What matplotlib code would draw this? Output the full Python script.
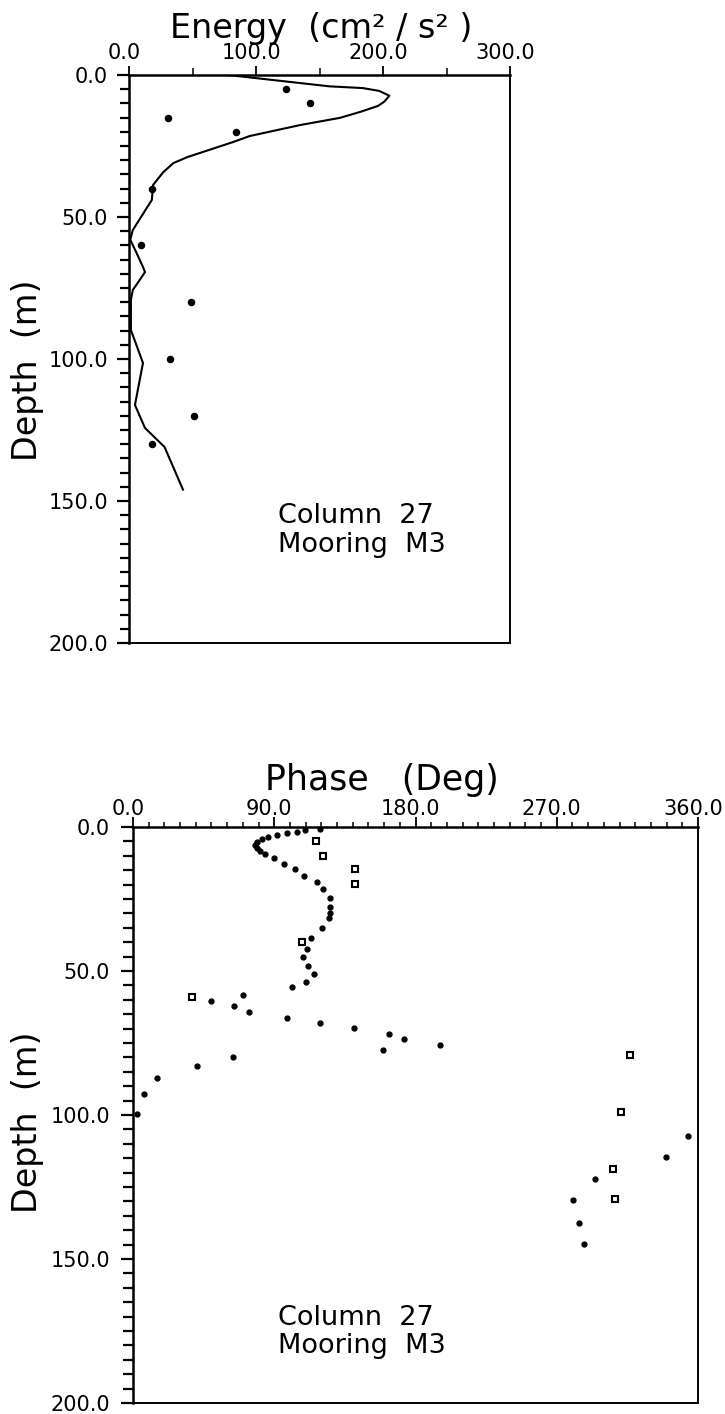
import matplotlib
matplotlib.use("Agg")
import matplotlib.pyplot as plt
from matplotlib.ticker import MultipleLocator, FormatStrFormatter
from matplotlib.transforms import ScaledTranslation

plt.rcParams['font.family'] = ['DejaVu Sans']

# ---------------- data ----------------
# Top panel: energy profile (line) and observed energy (dots)
energy_line_depth = [0, 2.0, 4.0, 4.6, 5.6, 7.3, 9.4, 10.9, 13.0, 15.1, 17.6, 21.5, 23.6,
                     28.9, 31.0, 34.2, 38.7, 44.0, 46.8, 54.6, 58.0, 62.7, 67.6, 69.4,
                     72.0, 75.7, 79.2, 89.8, 101.4, 116.2, 124.3, 131.0, 146.0]
energy_line_value = [78, 118, 158, 184, 197, 205, 201, 196, 182, 166, 135, 95, 82,
                     46, 35, 27, 19, 18, 14, 3, 1, 6, 11, 12.6,
                     8.7, 3, 1.5, 1.5, 11, 4.7, 12.6, 28, 42.5]
energy_obs_depth = [5, 10, 15, 20, 40, 60, 80, 100, 120, 130]
energy_obs_value = [123.6, 142.5, 30.7, 84, 18, 9.4, 48.8, 32.3, 51, 18]

# Bottom panel: phase (dots = model, squares = observed)
phase_dot_depth = [0.6, 1.0, 1.7, 2.1, 2.8, 3.5, 4.2, 5.2, 6.3, 7.3, 8.4, 9.4, 10.8, 12.9,
                   14.6, 17.1, 19.2, 21.6, 24.7, 27.9, 30.0, 31.7, 35.2, 38.7, 42.2,
                   45.3, 48.4, 51.2, 53.7, 55.7, 58.2, 60.3, 62.0, 64.1, 66.2, 67.9,
                   69.7, 71.8, 73.5, 75.6, 77.4, 79.8, 82.9, 87.1, 92.7, 99.7,
                   107.3, 114.6, 122.3, 129.6, 137.6, 144.9]
phase_dot_value = [119.2, 109.6, 104.5, 98, 91.8, 86, 82.2, 79, 77.8, 79, 81, 84, 90, 96,
                   103, 109, 117, 121, 125.6, 125.6, 125.6, 125, 120.5, 113.4, 111,
                   108.3, 111.5, 115.4, 110.3, 101.3, 70, 49.7, 64.4, 74, 98, 119.2,
                   140.9, 163, 172.7, 195.7, 159.3, 63.7, 40.8, 15.3, 7, 2.5,
                   353.7, 339.7, 294.5, 280.4, 284.3, 287.4]
phase_sq_depth = [4.9, 10.1, 14.6, 19.9, 40.1, 59.2, 79.1, 99.0, 118.8, 129.3]
phase_sq_value = [116.6, 121, 141.5, 141.5, 107.7, 37.6, 316.8, 311, 306, 307.2]

energy_ticks = [0, 100, 200, 300]
phase_ticks = [0, 90, 180, 270, 360]
depth_ticks = [0, 50, 100, 150, 200]

W, H = 725, 1414
fig = plt.figure(figsize=(W / 100, H / 100), dpi=100)


def fx(px):
    return px / W


def fy(py):
    return 1 - py / H


def style_axes(ax, xmaj, xmin_step, xmaj_len, xmin_len, ymaj_len, ymin_len, xpad, ypad):
    ax.set_ylim(200, 0)
    ax.xaxis.tick_top()
    ax.set_xticks(xmaj)
    ax.xaxis.set_minor_locator(MultipleLocator(xmin_step))
    ax.xaxis.set_major_formatter(FormatStrFormatter('%.1f'))
    ax.set_yticks(depth_ticks)
    ax.yaxis.set_minor_locator(MultipleLocator(5))
    ax.yaxis.set_major_formatter(FormatStrFormatter('%.1f'))
    ax.tick_params(axis='x', which='major', direction='out', length=xmaj_len, width=1.3,
                   labelsize=15, pad=xpad, top=True, bottom=False)
    ax.tick_params(axis='x', which='minor', direction='out', length=xmin_len, width=1.1,
                   top=True, bottom=False)
    ax.tick_params(axis='y', which='major', direction='out', length=ymaj_len, width=1.6,
                   labelsize=15, pad=ypad, left=True, right=False)
    ax.tick_params(axis='y', which='minor', direction='out', length=ymin_len, width=1.6,
                   left=True, right=False)
    for s in ax.spines.values():
        s.set_linewidth(1.4)
    ax.spines['left'].set_linewidth(1.8)
    ax.spines['top'].set_linewidth(1.8)
    # tick labels sit a few pixels left of their ticks in the original
    shift = ScaledTranslation(-5 / 100, 0, fig.dpi_scale_trans)
    for lab in ax.xaxis.get_majorticklabels():
        lab.set_transform(lab.get_transform() + shift)


# ---------------- top panel ----------------
ax1 = fig.add_axes([fx(129), fy(643), fx(510 - 129), (643 - 75) / H])
ax1.set_xlim(0, 300)
style_axes(ax1, energy_ticks, 50, 6.5, 5, 9, 6.5, 2, 6)
ax1.plot(energy_line_value, energy_line_depth, color='black', lw=1.5)
ax1.plot(energy_obs_value, energy_obs_depth, 'o', color='black', ms=4.4)

fig.text(fx(170), fy(38), "Energy  (cm² / s² )", fontsize=24, ha='left', va='baseline')
fig.text(fx(28), fy(370), "Depth  (m)", fontsize=24, rotation=90, ha='center', va='center')
fig.text(fx(278), fy(523), "Column  27", fontsize=19.5, ha='left', va='baseline')
fig.text(fx(278), fy(552), "Mooring  M3", fontsize=19.5, ha='left', va='baseline')

# ---------------- bottom panel ----------------
ax2 = fig.add_axes([fx(133), fy(1403), fx(698 - 133), (1403 - 827) / H])
ax2.set_xlim(0, 360)
style_axes(ax2, phase_ticks, 10, 7, 3.6, 8.6, 7, -1, 8)
ax2.plot(phase_dot_value, phase_dot_depth, 'o', color='black', ms=3.5)
ax2.plot(phase_sq_value, phase_sq_depth, 's', mfc='white', mec='black', mew=1.5, ms=4.2)

fig.text(fx(382), fy(790), "Phase   (Deg)", fontsize=25, ha='center', va='baseline')
fig.text(fx(28), fy(1122), "Depth  (m)", fontsize=24, rotation=90, ha='center', va='center')
fig.text(fx(278), fy(1325), "Column  27", fontsize=19.5, ha='left', va='baseline')
fig.text(fx(278), fy(1353), "Mooring  M3", fontsize=19.5, ha='left', va='baseline')

fig.savefig("out.png", dpi=100, facecolor='white')
